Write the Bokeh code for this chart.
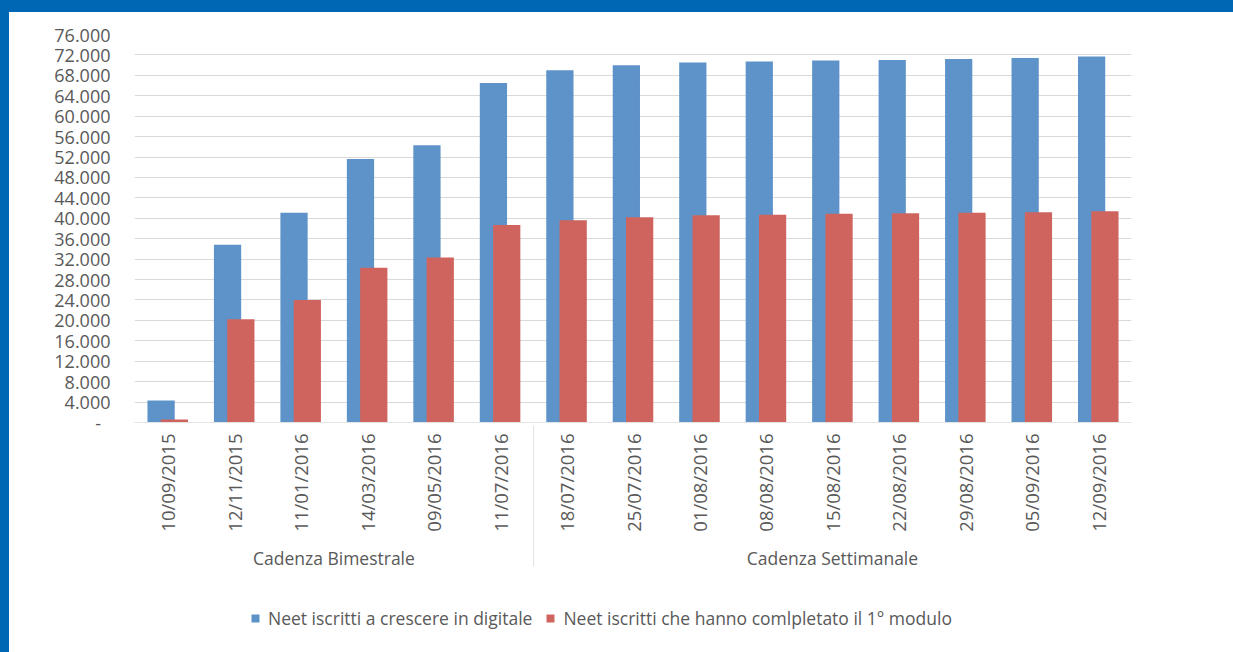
import math
from bokeh.plotting import figure
from bokeh.layouts import column
from bokeh.models import (FactorRange, Range1d, FixedTicker, Legend, LegendItem,
                          ColumnDataSource, GlobalInlineStyleSheet)
from bokeh.transform import dodge
from bokeh.embed import file_html
from bokeh.resources import INLINE

# ---- data -------------------------------------------------------------
groups = ["Cadenza Bimestrale"] * 6 + ["Cadenza Settimanale"] * 9
dates = ["10/09/2015", "12/11/2015", "11/01/2016", "14/03/2016", "09/05/2016",
         "11/07/2016", "18/07/2016", "25/07/2016", "01/08/2016", "08/08/2016",
         "15/08/2016", "22/08/2016", "29/08/2016", "05/09/2016", "12/09/2016"]
iscritti = [4300, 34800, 41100, 51600, 54300, 66500, 69000, 70000, 70500,
            70700, 70900, 71000, 71200, 71400, 71700]
completato = [600, 20200, 24000, 30300, 32300, 38700, 39600, 40200, 40600,
              40700, 40900, 41000, 41100, 41200, 41400]
series_names = ["Neet iscritti a crescere in digitale",
                "Neet iscritti che hanno comlpletato il 1° modulo"]
y_tick_values = [0, 4000, 8000, 12000, 16000, 20000, 24000, 28000, 32000, 36000,
                 40000, 44000, 48000, 52000, 56000, 60000, 64000, 68000, 72000, 76000]
y_tick_labels = ["-\u00a0\u00a0", "4.000", "8.000", "12.000", "16.000", "20.000", "24.000",
                 "28.000", "32.000", "36.000", "40.000", "44.000", "48.000",
                 "52.000", "56.000", "60.000", "64.000", "68.000", "72.000", "76.000"]

# ---- styling ----------------------------------------------------------
BLUE = "#5E93C9"
RED = "#CF645E"
FRAME_BLUE = "#0067B4"
TEXT = "#595959"
FONT = "Open Sans"

factors = list(zip(groups, dates))
source = ColumnDataSource(dict(x=factors, iscritti=iscritti, completato=completato))

p = figure(width=1225, height=586, output_backend="svg", toolbar_location=None,
           x_range=FactorRange(factors=factors, factor_padding=0, group_padding=0,
                               subgroup_padding=0, range_padding=0),
           y_range=Range1d(0, 76000))
p.min_border_left = 134
p.min_border_right = 94
p.min_border_top = 34
p.min_border_bottom = 164
p.border_fill_color = None
p.background_fill_color = None
p.outline_line_color = None
p.stylesheets = [GlobalInlineStyleSheet(css=(
    "html, body { background: "
    f"linear-gradient({FRAME_BLUE},{FRAME_BLUE}) left top / 100% 12px no-repeat, "
    f"linear-gradient({FRAME_BLUE},{FRAME_BLUE}) left top / 9px 100% no-repeat, "
    "#ffffff; }"))]

r1 = p.vbar(x=dodge("x", -0.1, range=p.x_range), top="iscritti", width=0.41,
            source=source, fill_color=BLUE, line_color=None)
r2 = p.vbar(x=dodge("x", 0.1, range=p.x_range), top="completato", width=0.41,
            source=source, fill_color=RED, line_color=None)

# grid
p.xgrid.grid_line_color = None
p.ygrid.ticker = FixedTicker(ticks=y_tick_values)
p.ygrid.grid_line_color = "#D9D9D9"
p.ygrid.grid_line_width = 1

# y axis
ya = p.yaxis[0]
ya.ticker = FixedTicker(ticks=y_tick_values)
ya.major_label_overrides = {v: l for v, l in zip(y_tick_values, y_tick_labels)}
ya.axis_line_color = None
ya.major_tick_line_color = None
ya.minor_tick_line_color = None
ya.major_tick_out = 0
ya.major_tick_in = 0
ya.major_label_standoff = 24
ya.major_label_text_font = FONT
ya.major_label_text_font_size = "18px"
ya.major_label_text_color = TEXT

# x axis
xa = p.xaxis[0]
xa.axis_line_color = "#E3E3E3"
xa.major_tick_line_color = None
xa.minor_tick_line_color = None
xa.major_tick_out = 0
xa.major_tick_in = 0
xa.major_label_orientation = math.pi / 2
xa.major_label_standoff = 11
xa.major_label_text_font = FONT
xa.major_label_text_font_size = "18.5px"
xa.major_label_text_color = TEXT
xa.group_text_font = FONT
xa.group_text_font_size = "17.5px"
xa.group_text_color = TEXT
xa.group_text_font_style = "normal"
xa.separator_line_color = "#E3E3E3"
xa.separator_line_width = 1

# ---- legend strip (a second figure under the chart) --------------------
# the proxy bars have zero width and lie outside the visible y range;
# they only provide the legend swatches
lg = figure(width=1225, height=58, output_backend="svg", toolbar_location=None,
            x_range=FactorRange(factors=factors), y_range=Range1d(1e6, 2e6),
            x_axis_location=None, y_axis_location=None,
            min_border=0)
lg.border_fill_color = None
lg.background_fill_color = None
lg.outline_line_color = None
lg.grid.grid_line_color = None
l1 = lg.vbar(x="x", top="iscritti", width=0, source=source,
             fill_color=BLUE, line_color=None)
l2 = lg.vbar(x="x", top="completato", width=0, source=source,
             fill_color=RED, line_color=None)
legend = Legend(items=[LegendItem(label=series_names[0], renderers=[l1]),
                       LegendItem(label=series_names[1], renderers=[l2])],
                orientation="horizontal", location=(116, 14),
                border_line_color=None, background_fill_alpha=0,
                label_text_font=FONT, label_text_font_size="17.5px",
                label_text_color=TEXT, glyph_width=10, glyph_height=10,
                label_standoff=8, spacing=13, padding=0, margin=0)
lg.add_layout(legend)

layout = column(p, lg, spacing=0)

open("out.html", "w").write(file_html(layout, INLINE))
